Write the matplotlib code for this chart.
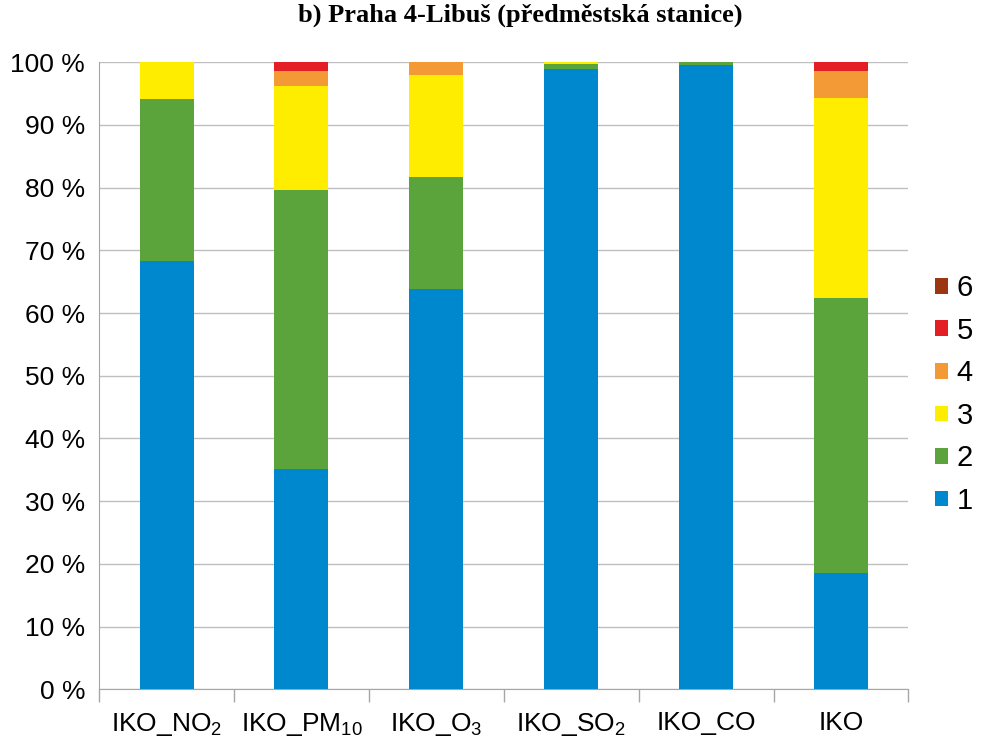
import matplotlib
matplotlib.use("Agg")
import matplotlib.pyplot as plt
import numpy as np
from matplotlib import font_manager

names = {f.name for f in font_manager.fontManager.ttflist}
sans = "Liberation Sans Narrow" if "Liberation Sans Narrow" in names else "Liberation Sans"

plt.rcParams['font.family'] = [sans, 'DejaVu Sans']
plt.rcParams['mathtext.fontset'] = 'custom'
plt.rcParams['mathtext.rm'] = sans

categories = ["IKO_NO$\\mathregular{_2}$", "IKO_PM$\\mathregular{_{10}}$", "IKO_O$\\mathregular{_3}$",
              "IKO_SO$\\mathregular{_2}$", "IKO_CO", "IKO"]
classes = ["1", "2", "3", "4", "5", "6"]
colors = ["#0088CE", "#5BA33B", "#FFED00", "#F39A36", "#E31E24", "#9C3511"]

# percent share of each index class per pollutant
c1 = [68.3, 35.2, 63.8, 99.0, 99.5, 18.5]
c2 = [25.8, 44.4, 17.9, 0.8, 0.5, 43.9]
c3 = [5.9, 16.6, 16.2, 0.2, 0.0, 31.9]
c4 = [0.0, 2.4, 2.1, 0.0, 0.0, 4.3]
c5 = [0.0, 1.4, 0.0, 0.0, 0.0, 1.4]
c6 = [0.0, 0.0, 0.0, 0.0, 0.0, 0.0]
series = [c1, c2, c3, c4, c5, c6]

fs = 19

fig = plt.figure(figsize=(9.81, 7.5), dpi=100)
ax = fig.add_axes([0.101, 0.081, 0.825, 0.836])

x = np.arange(len(categories))
bottom = np.zeros(len(categories))
handles = []
for vals, col, lab in zip(series, colors, classes):
    h = ax.bar(x, vals, 0.4, bottom=bottom, color=col, label=lab, zorder=3)
    handles.append(h)
    bottom += np.array(vals)

ax.set_xlim(-0.5, len(categories) - 0.5)
ax.set_ylim(0, 100)
ax.set_yticks(range(0, 101, 10))
ax.set_yticklabels([f"{v} %" for v in range(0, 101, 10)], fontsize=fs)
ax.yaxis.grid(True, color="#BFBFBF", linewidth=1, zorder=0)
ax.tick_params(axis='y', length=0, pad=10)

ax.set_xticks(x)
ax.set_xticklabels(categories, fontsize=fs)
ax.set_xticks(np.arange(-0.5, len(categories)), minor=True)
ax.tick_params(axis='x', which='major', length=0, pad=16)
ax.tick_params(axis='x', which='minor', length=9, color="#A6A6A6", width=1)

for s in ['top', 'right']:
    ax.spines[s].set_visible(False)
ax.spines['left'].set_color("#A6A6A6")
ax.spines['bottom'].set_color("#A6A6A6")

ax.legend(handles[::-1], classes[::-1], loc='center left', bbox_to_anchor=(1.0, 0.47),
          frameon=False, fontsize=21, handlelength=0.45, handleheight=0.45,
          handletextpad=0.3, labelspacing=0.5)

fig.suptitle("b) Praha 4-Libuš (předměstská stanice)", x=0.53, y=0.995,
             fontsize=19, fontweight='bold', family='Liberation Serif')

fig.savefig("out.png", dpi=100)
